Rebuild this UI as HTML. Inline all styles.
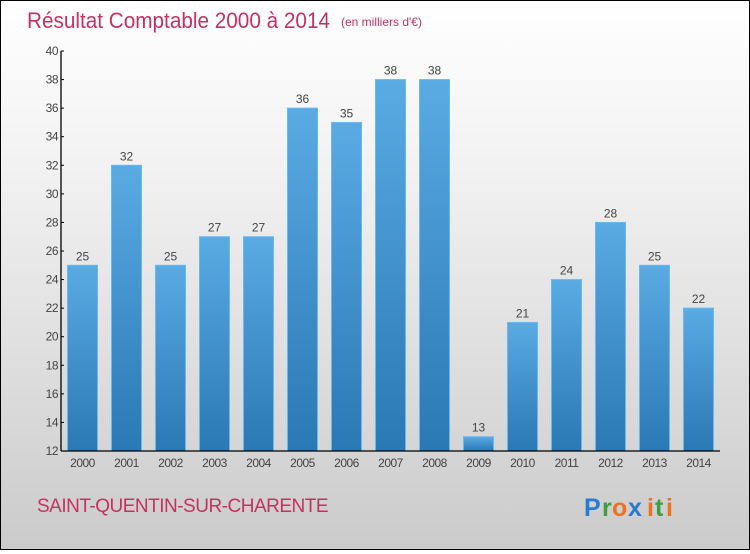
<!DOCTYPE html>
<html><head><meta charset="utf-8"><style>
html,body{margin:0;padding:0}
body{width:750px;height:550px;overflow:hidden;font-family:"Liberation Sans",sans-serif}
#wrap{position:relative;width:748px;height:548px;border:1px solid #000;background:linear-gradient(#fff 0%,#f2f2f2 30%,#cbcbcb 100%)}
</style></head><body>
<div id="wrap">
<svg id="chart" width="748" height="548" xmlns="http://www.w3.org/2000/svg">
<defs>
<linearGradient id="bg" x1="0" y1="0" x2="0" y2="1"><stop offset="0" stop-color="#5aaae4"/><stop offset="1" stop-color="#2a78b4"/></linearGradient>
</defs>
<text x="26" y="27" font-size="22" fill="#c8305f" textLength="303" lengthAdjust="spacingAndGlyphs">Résultat Comptable 2000 à 2014</text>
<text x="340" y="25" font-size="12" fill="#c8305f">(en milliers d'€)</text>
<g id="bars"></g>
<g id="axes"></g>
<text x="36" y="511" font-size="19" fill="#c8305f" letter-spacing="-0.5">SAINT-QUENTIN-SUR-CHARENTE</text>
<g font-size="25" font-weight="bold" font-family="'Liberation Sans',sans-serif">
<text x="583" y="515" fill="#2a7ad0">P</text><text x="601" y="515" fill="#3aa040">r</text><text x="611" y="515" fill="#f07020">o</text><text x="627" y="515" fill="#2a7ad0">x</text><text x="646" y="515" fill="#f07020">i</text><text x="654" y="515" fill="#3aa040">t</text><text x="665" y="515" fill="#f07020">i</text>
</g>
</svg>
</div>
<script>
const categories=["2000","2001","2002","2003","2004","2005","2006","2007","2008","2009","2010","2011","2012","2013","2014"];
const values=[25,32,25,27,27,36,35,38,38,13,21,24,28,25,22];
const yTicks=[12,14,16,18,20,22,24,26,28,30,32,34,36,38,40];
const NS="http://www.w3.org/2000/svg";
const yMin=12,yMax=40,plotTop=50,plotBot=450,x0=60,x1=719;
const y=v=>plotBot-(v-yMin)/(yMax-yMin)*(plotBot-plotTop);
const xc=i=>81.5+i*44;
function mk(t,a,p){const e=document.createElementNS(NS,t);for(const k in a)e.setAttribute(k,a[k]);p.appendChild(e);return e;}
const bars=document.getElementById('bars'),axes=document.getElementById('axes');
values.forEach((v,i)=>{
 const r=mk('rect',{x:xc(i)-15,y:y(v),width:30,height:plotBot-y(v),fill:'url(#bg)',stroke:'#6bb8ee','stroke-width':1},bars);
 
 
 const t=mk('text',{x:xc(i),y:y(v)-5,'text-anchor':'middle','font-size':12,fill:'#444'},bars);
 t.textContent=v;
 
 
 const c=mk('text',{x:xc(i),y:plotBot+16,'text-anchor':'middle','font-size':12,fill:'#444','letter-spacing':-0.5},axes);
 c.textContent=categories[i];
 
 
});
const ya=mk('line',{x1:x0,y1:plotTop,x2:x0,y2:plotBot,stroke:'#000','stroke-width':1.3},axes);


const xa=mk('line',{x1:x0,y1:plotBot,x2:x1,y2:plotBot,stroke:'#000','stroke-width':1.3},axes);


yTicks.forEach(v=>{
 mk('line',{x1:x0,y1:y(v),x2:x0+3,y2:y(v),stroke:'#000'},axes);
 const t=mk('text',{x:x0-3,y:y(v)+4,'text-anchor':'end','font-size':12,fill:'#444','letter-spacing':-0.5},axes);
 t.textContent=v;
 
 
});
</script>
</body></html>
